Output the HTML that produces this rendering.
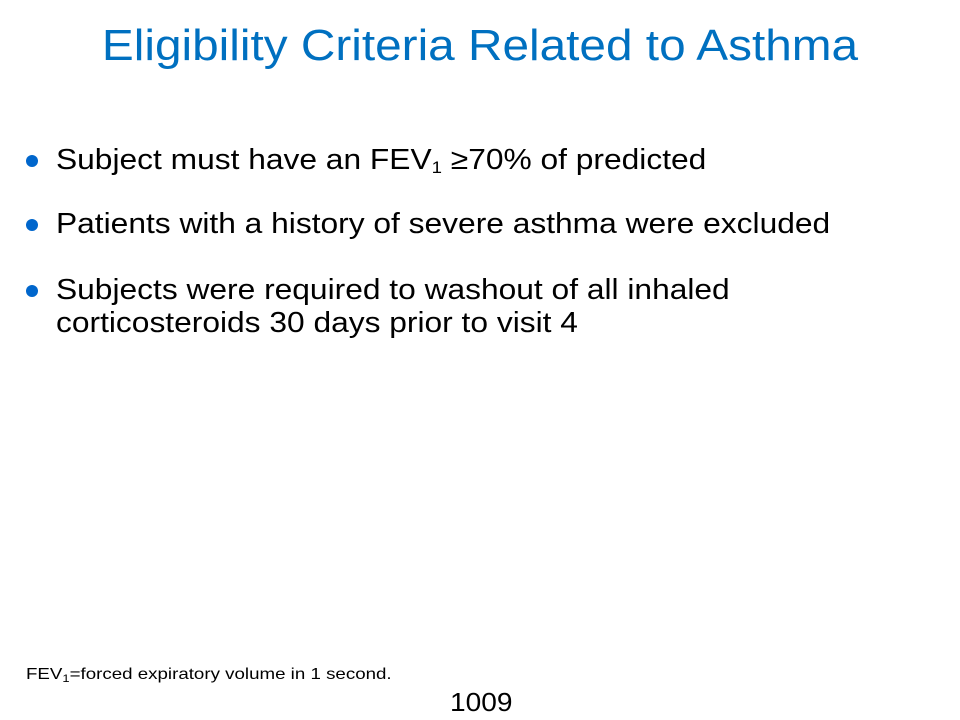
<!DOCTYPE html>
<html><head><meta charset="utf-8"><style>
body{margin:0;width:960px;height:720px;background:#fff;position:relative;overflow:hidden;font-family:"Liberation Sans",Arial,sans-serif;color:#000}
.t{position:absolute;left:0;width:960px;top:20px;text-align:center;font-size:44px;color:#0070C0;line-height:52px;transform:scaleX(1.085);transform-origin:480px 0;white-space:nowrap}
.b{position:absolute;left:56px;font-size:29px;line-height:33px;transform:scaleX(1.094);transform-origin:0 0;white-space:nowrap}
.dot{position:absolute;left:26px;width:12px;height:12px;border-radius:50%;background:#0066CC}
sub{font-size:17px;vertical-align:-4px;line-height:0}
.fn{position:absolute;left:26px;top:666px;font-size:16px;transform:scaleX(1.17);transform-origin:0 0;white-space:nowrap}
.fn sub{font-size:11px;vertical-align:-3px}
.pg{position:absolute;left:450px;top:687px;font-size:26px;transform:scaleX(1.08);transform-origin:0 0}
</style></head><body>
<div class="t">Eligibility Criteria Related to Asthma</div>
<div class="dot" style="top:155px"></div>
<div class="b" style="top:144px">Subject must have an FEV<sub>1</sub> ≥70% of predicted</div>
<div class="dot" style="top:219px"></div>
<div class="b" style="top:208px">Patients with a history of severe asthma were excluded</div>
<div class="dot" style="top:285px"></div>
<div class="b" style="top:274px">Subjects were required to washout of all inhaled<br>corticosteroids 30 days prior to visit 4</div>
<div class="fn">FEV<sub>1</sub>=forced expiratory volume in 1 second.</div>
<div class="pg">1009</div>
</body></html>
